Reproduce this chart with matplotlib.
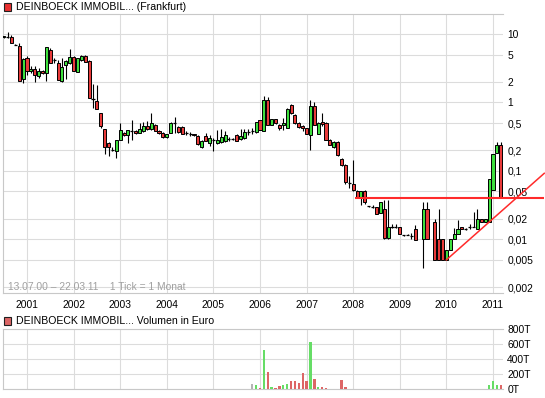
import matplotlib
matplotlib.use("Agg")
import matplotlib.pyplot as plt
from matplotlib.patches import Rectangle
from matplotlib.ticker import NullLocator
import numpy as np

plt.rcParams['font.family'] = ['Liberation Sans', 'DejaVu Sans']

# ---------------- data ----------------
months = [
    "2000-07", "2000-08", "2000-09", "2000-10", "2000-11", "2000-12",
    "2001-01", "2001-02", "2001-03", "2001-04", "2001-05", "2001-06", "2001-07", "2001-08", "2001-09", "2001-10", "2001-11", "2001-12",
    "2002-01", "2002-02", "2002-03", "2002-04", "2002-05", "2002-06", "2002-07", "2002-08", "2002-09", "2002-10", "2002-11", "2002-12",
    "2003-01", "2003-02", "2003-03", "2003-04", "2003-05", "2003-06", "2003-07", "2003-08", "2003-09", "2003-10", "2003-11", "2003-12",
    "2004-01", "2004-02", "2004-03", "2004-04", "2004-05", "2004-06", "2004-07", "2004-08", "2004-09", "2004-10", "2004-11", "2004-12",
    "2005-01", "2005-02", "2005-03", "2005-04", "2005-05", "2005-06", "2005-07", "2005-08", "2005-09", "2005-10", "2005-11", "2005-12",
    "2006-01", "2006-02", "2006-03", "2006-04", "2006-05", "2006-06", "2006-07", "2006-08", "2006-09", "2006-10", "2006-11", "2006-12",
    "2007-01", "2007-02", "2007-03", "2007-04", "2007-05", "2007-06", "2007-07", "2007-08", "2007-09", "2007-10", "2007-11", "2007-12",
    "2008-01", "2008-02", "2008-03", "2008-04", "2008-05", "2008-06", "2008-07", "2008-08", "2008-09", "2008-10", "2008-11", "2008-12",
    "2009-01", "2009-02", "2009-03", "2009-04", "2009-05", "2009-06", "2009-07", "2009-08", "2009-09", "2009-10", "2009-11", "2009-12",
    "2010-01", "2010-02", "2010-03", "2010-04", "2010-05", "2010-06", "2010-07", "2010-08", "2010-09", "2010-10", "2010-11", "2010-12",
    "2011-01", "2011-02", "2011-03",
]

opens = [
    8.9, 9.1, 9.0, 7.0, 6.6, 2.23,
    4.5, 2.86, 3.13, 2.42, 2.92, 2.7, 5.74, 4.1, 3.78, 2.09, 3.5, 3.75,
    4.6, 2.8, 4.1, 4.8, 4.0, 1.14, 1.04, 0.69, 0.41, 0.255, 0.20, 0.197,
    0.282, 0.36, 0.334, 0.386, 0.386, 0.36, 0.38, 0.453, 0.405, 0.47, 0.383, 0.36,
    0.31, 0.36, 0.50, 0.44, 0.44, 0.354, 0.35, 0.345, 0.32, 0.22, 0.32, 0.255,
    0.285, 0.253, 0.26, 0.27, 0.292, 0.29, 0.335, 0.29, 0.30, 0.37, 0.38, 0.37,
    0.55, 0.386, 1.09, 0.47, 0.57, 0.47, 0.46, 0.43, 0.92, 0.66, 0.50, 0.45,
    0.42, 0.33, 0.88, 0.35, 0.51, 0.50, 0.28, 0.22, 0.264, 0.148, 0.12, 0.066,
    0.064, 0.0515, 0.040, 0.0515, 0.0305, 0.030, 0.0297, 0.0244, 0.0273, 0.0103, 0.0149, 0.0149,
    0.0149, 0.0115, 0.0117, 0.011, 0.0139, None, 0.010, 0.028, None, 0.018, 0.010, 0.010,
    0.005, 0.0069, 0.010, 0.0118, 0.0149, 0.0139, 0.0149, 0.0149, 0.0139, 0.0195, 0.018, 0.018,
    0.0525, 0.185, 0.239,
]

highs = [
    9.5, 10.7, 9.6, 7.1, 7.4, 4.4,
    4.8, 3.4, 3.4, 3.2, 3.0, 6.5, 6.3, 4.4, 4.1, 4.48, 4.1, 6.0,
    4.7, 4.5, 4.9, 4.9, 4.1, 1.87, 1.8, 0.70, 0.41, 0.26, 0.226, 0.282,
    0.496, 0.37, 0.40, 0.555, 0.40, 0.496, 0.51, 0.53, 0.695, 0.48, 0.39, 0.37,
    0.35, 0.51, 0.607, 0.45, 0.45, 0.38, 0.37, 0.35, 0.33, 0.28, 0.36, 0.33,
    0.305, 0.40, 0.405, 0.38, 0.31, 0.30, 0.34, 0.405, 0.405, 0.405, 0.43, 0.52,
    0.56, 1.25, 1.22, 0.58, 0.58, 0.48, 0.59, 0.82, 0.95, 0.67, 0.52, 0.47,
    0.43, 1.08, 1.0, 0.52, 0.70, 0.51, 0.29, 0.27, 0.27, 0.155, 0.125, 0.083,
    0.142, 0.052, 0.0515, 0.053, 0.031, 0.032, 0.030, 0.0355, 0.0373, 0.0373, 0.0165, 0.0165,
    0.015, 0.0117, 0.012, 0.0124, 0.016, None, 0.0354, 0.0354, None, 0.020, 0.028, 0.010,
    0.0069, 0.010, 0.0145, 0.019, 0.015, 0.0145, 0.0165, 0.025, 0.028, 0.0197, 0.0196, 0.075,
    0.176, 0.267, 0.267,
]

lows = [
    8.8, 8.6, 7.4, 6.9, 2.04, 1.93,
    2.55, 2.7, 2.0, 2.25, 2.6, 2.04, 3.8, 3.8, 2.16, 2.0, 2.2, 3.7,
    2.9, 2.75, 4.0, 3.9, 1.16, 0.83, 0.80, 0.42, 0.176, 0.163, 0.197, 0.152,
    0.28, 0.32, 0.253, 0.282, 0.345, 0.355, 0.375, 0.40, 0.40, 0.38, 0.35, 0.30,
    0.30, 0.355, 0.354, 0.36, 0.34, 0.33, 0.32, 0.32, 0.24, 0.215, 0.27, 0.23,
    0.198, 0.25, 0.255, 0.265, 0.27, 0.28, 0.275, 0.285, 0.295, 0.335, 0.34, 0.36,
    0.40, 0.38, 0.47, 0.46, 0.49, 0.40, 0.40, 0.42, 0.68, 0.49, 0.43, 0.38,
    0.34, 0.204, 0.46, 0.34, 0.45, 0.28, 0.235, 0.215, 0.165, 0.118, 0.065, 0.056,
    0.051, 0.040, 0.032, 0.033, 0.030, 0.029, 0.0235, 0.024, 0.0102, 0.0102, 0.0148, 0.0145,
    0.0118, 0.0113, 0.0115, 0.010, 0.0099, None, 0.0038, 0.010, None, 0.005, 0.005, 0.005,
    0.005, 0.0069, 0.010, 0.0118, 0.0139, 0.0135, 0.0139, 0.0149, 0.0139, 0.0178, 0.0176, 0.018,
    0.0525, 0.185, 0.0409,
]

closes = [
    9.4, 9.1, 7.4, 7.0, 2.04, 4.37,
    2.86, 3.13, 2.5, 2.92, 2.68, 6.43, 3.83, 4.1, 2.16, 3.28, 4.0, 4.6,
    2.92, 4.48, 4.8, 3.9, 1.16, 1.14, 0.80, 0.45, 0.22, 0.22, 0.20, 0.282,
    0.396, 0.33, 0.396, 0.386, 0.354, 0.405, 0.453, 0.405, 0.496, 0.386, 0.354, 0.31,
    0.345, 0.50, 0.50, 0.37, 0.35, 0.354, 0.35, 0.33, 0.246, 0.27, 0.27, 0.30,
    0.285, 0.28, 0.315, 0.335, 0.292, 0.29, 0.277, 0.32, 0.37, 0.37, 0.38, 0.51,
    0.40, 1.09, 0.47, 0.57, 0.50, 0.43, 0.50, 0.80, 0.69, 0.50, 0.44, 0.42,
    0.345, 0.88, 0.47, 0.50, 0.49, 0.28, 0.236, 0.264, 0.168, 0.12, 0.068, 0.066,
    0.052, 0.040, 0.0515, 0.0355, 0.0305, 0.030, 0.0238, 0.0355, 0.0103, 0.0149, 0.0149, 0.0149,
    0.0118, 0.0115, 0.0117, 0.011, 0.0099, None, 0.028, 0.010, None, 0.005, 0.005, 0.005,
    0.0069, 0.010, 0.0118, 0.0139, 0.0139, 0.0139, 0.0149, 0.0149, 0.0195, 0.0178, 0.0195, 0.075,
    0.176, 0.239, 0.0409,
]

# volume in thousand euro ("T")
volumes = [
    0, 0, 0, 0, 0, 0,
    0, 0, 0, 0, 0, 0, 0, 0, 0, 0, 0, 0,
    0, 0, 0, 0, 0, 0, 0, 0, 0, 0, 0, 0,
    0, 0, 0, 0, 0, 0, 0, 0, 0, 0, 0, 0,
    0, 0, 0, 0, 0, 0, 0, 0, 0, 0, 0, 0,
    0, 0, 0, 0, 0, 0, 0, 0, 0, 0, 70, 58,
    18, 520, 232, 32, 18, 45, 58, 72, 104, 104, 77, 207,
    104, 630, 140, 32, 32, 18, 0, 0, 0, 126, 32, 0,
    0, 0, 0, 0, 0, 0, 0, 0, 0, 0, 0, 0,
    0, 0, 0, 0, 0, 0, 0, 0, 0, 0, 0, 0,
    0, 0, 0, 0, 0, 0, 0, 0, 0, 0, 0, 58,
    104, 58, 58,
]

year_ticks = [2001, 2002, 2003, 2004, 2005, 2006, 2007, 2008, 2009, 2010, 2011]
price_ticks = [10, 5, 2, 1, 0.5, 0.2, 0.1, 0.05, 0.02, 0.01, 0.005, 0.002]
price_labels = ["10", "5", "2", "1", "0,5", "0,2", "0,1", "0,05", "0,02", "0,01", "0,005", "0,002"]
vol_ticks = [0, 200, 400, 600, 800]
vol_labels = ["0T", "200T", "400T", "600T", "800T"]

# drawn annotation lines (support level and trend line)
support_level = 0.0395
support_x = [2008.03, 2012.1]
trend_x = [2010.0, 2012.1]
trend_y = [0.005, 0.092]

title_main = "DEINBOECK IMMOBIL... (Frankfurt)"
title_vol = "DEINBOECK IMMOBIL... Volumen in Euro"
range_text = "13.07.00 \u2013 22.03.11    1 Tick = 1 Monat"

# ---------------- figure ----------------
W, H = 545, 398
fig = plt.figure(figsize=(W / 100, H / 100), dpi=100)
fig.patch.set_facecolor("white")


def rect(l, t, r, b):
    return [l / W, 1 - b / H, (r - l) / W, (b - t) / H]


ax = fig.add_axes(rect(3, 14, 503, 293))
axv = fig.add_axes(rect(3, 329, 503, 389))

GRID = "#dcdcdc"
SPINE = "#c8c8c8"
GREEN = "#3ee03e"
RED = "#e83a3a"
VGREEN = "#66dd66"
VRED = "#dd6666"
VGRAY = "#b4b4b4"
FS = 7.4


def month_pos(s):
    y, m = s.split("-")
    return int(y) + (int(m) - 1) / 12.0


xs = np.array([month_pos(s) for s in months])

for a in (ax, axv):
    a.set_xlim(2000.485, 2011.215)
    a.set_xticks(year_ticks)
    a.grid(True, color=GRID, lw=0.8)
    a.set_axisbelow(True)
    a.spines["right"].set_visible(False)
    for sp in ("left", "top", "bottom"):
        a.spines[sp].set_color(SPINE)
        a.spines[sp].set_linewidth(0.8)
    a.yaxis.tick_right()
    a.tick_params(axis="both", length=0, labelsize=FS, colors="black")
    a.tick_params(axis="y", pad=3)

# price panel
ax.set_yscale("log")
ax.set_ylim(0.00164, 19.6)
ax.set_yticks(price_ticks)
ax.set_yticklabels(price_labels)
ax.yaxis.set_minor_locator(NullLocator())
ax.set_xticklabels([str(y) for y in year_ticks])
ax.tick_params(axis="x", pad=4.8)

bw = 0.066
body_x, body_bot, body_h, body_c = [], [], [], []
flat_x, flat_y = [], []
wick_x, wick_lo, wick_hi = [], [], []
for xi, o, h, l, c in zip(xs, opens, highs, lows, closes):
    if o is None:
        continue
    wick_x.append(xi)
    wick_lo.append(l)
    wick_hi.append(h)
    if abs(c - o) / o < 0.005:
        flat_x.append(xi)
        flat_y.append(o)
    else:
        body_x.append(xi)
        body_bot.append(min(o, c))
        body_h.append(abs(c - o))
        body_c.append(GREEN if c > o else RED)

ax.vlines(wick_x, wick_lo, wick_hi, colors="black", lw=0.8, zorder=2)
ax.bar(body_x, body_h, bottom=body_bot, width=bw, color=body_c,
       edgecolor="black", linewidth=0.7, zorder=3)
ax.hlines(flat_y, np.array(flat_x) - bw / 2, np.array(flat_x) + bw / 2,
          colors="black", lw=0.9, zorder=3)

ax.plot(support_x, [support_level, support_level], color="#ff2a2a", lw=1.5,
        clip_on=False, zorder=5, solid_capstyle="butt")
ax.plot(trend_x, trend_y, color="#ff2a2a", lw=1.1, clip_on=False, zorder=5)

ax.text(0.01, 0.022, range_text, transform=ax.transAxes, fontsize=FS,
        color="#a0a0a0", ha="left", va="center")

# volume panel
axv.set_ylim(0, 800)
axv.set_yticks(vol_ticks)
axv.set_yticklabels(vol_labels)
axv.set_xticklabels([])
vcols = []
vx, vh = [], []
for xi, o, c, v in zip(xs, opens, closes, volumes):
    if not v:
        continue
    vx.append(xi)
    vh.append(v)
    if o is None or abs(c - o) / o < 0.005:
        vcols.append(VGRAY)
    elif c > o:
        vcols.append(VGREEN)
    else:
        vcols.append(VRED)
axv.bar(vx, vh, width=0.05, color=vcols, zorder=3)

# titles with legend squares
fig.add_artist(Rectangle((3.5 / W, 1 - 10.5 / H), 7.5 / W, 7.5 / H,
                         transform=fig.transFigure, facecolor="#e83030",
                         edgecolor="#202020", lw=0.8))
fig.text(16 / W, 1 - 7 / H, title_main, fontsize=FS + 0.2, ha="left", va="center")
fig.add_artist(Rectangle((3.5 / W, 1 - 324.5 / H), 7.5 / W, 7.5 / H,
                         transform=fig.transFigure, facecolor="#dd6666",
                         edgecolor="#202020", lw=0.8))
fig.text(16 / W, 1 - 321 / H, title_vol, fontsize=FS + 0.2, ha="left", va="center")

fig.savefig("out.png", dpi=100, facecolor="white")
